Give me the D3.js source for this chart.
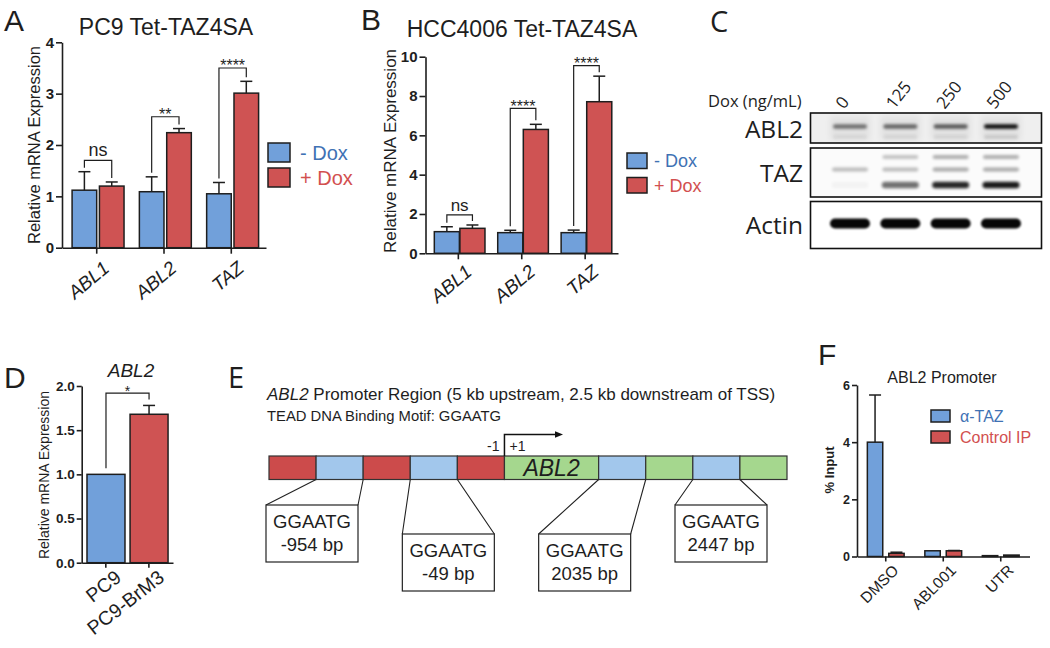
<!DOCTYPE html>
<html>
<head>
<meta charset="utf-8">
<title>ABL2 / TAZ figure</title>
<script src="https://cdn.jsdelivr.net/npm/d3@7/dist/d3.min.js"></script>
<style>
  body { margin: 0; background: #fff; }
  svg { display: block; }
  text { font-family: "Liberation Sans", Arial, sans-serif; }
</style>
</head>
<body>
<div id="figure"></div>
<script>
// ---------- Panel A: PC9 Tet-TAZ4SA ----------
const aGenes = ['ABL1', 'ABL2', 'TAZ'];
const aMinusDox = [1.12, 1.09, 1.05];
const aMinusDoxErr = [0.36, 0.29, 0.22];
const aPlusDox = [1.20, 2.24, 3.01];
const aPlusDoxErr = [0.08, 0.08, 0.23];
const aSigLabels = ['ns', '**', '****'];
const aSigLevels = [1.70, 2.55, 3.50];
const aTicks = [0, 1, 2, 3, 4];

// ---------- Panel B: HCC4006 Tet-TAZ4SA ----------
const bGenes = ['ABL1', 'ABL2', 'TAZ'];
const bMinusDox = [1.10, 1.05, 1.05];
const bMinusDoxErr = [0.25, 0.12, 0.13];
const bPlusDox = [1.27, 6.30, 7.71];
const bPlusDoxErr = [0.17, 0.26, 1.30];
const bSigLabels = ['ns', '****', '****'];
const bSigLevels = [1.95, 7.37, 9.55];
const bTicks = [0, 2, 4, 6, 8, 10];

// ---------- Panel C: western blot (band intensities 0..1) ----------
const cDoses = ['0', '125', '250', '500'];
const cAbl2 = [0.5, 0.55, 0.6, 0.95];
const cTazUpper = [0, 0.22, 0.3, 0.3];
const cTazMiddle = [0.25, 0.25, 0.32, 0.32];
const cTazLower = [0.03, 0.55, 0.85, 0.9];
const cActin = [0.97, 0.97, 0.97, 0.97];

// ---------- Panel D: ABL2 in PC9 vs PC9-BrM3 ----------
const dLines = ['PC9', 'PC9-BrM3'];
const dValues = [1.00, 1.68];
const dErr = [0, 0.10];
const dSigLevel = 1.92;
const dTicks = [0, 0.5, 1.0, 1.5, 2.0];

// ---------- Panel E: promoter schematic ----------
const eSegments = ['up', 'motif', 'up', 'motif', 'up', 'gene', 'motif', 'down', 'motif', 'down'];
const eSpans = [1, 1, 1, 1, 1, 2, 1, 1, 1, 1];
const eSites = ['-954 bp', '-49 bp', '2035 bp', '2447 bp'];
const eSiteSegment = [1, 3, 6, 8];
const eSiteRow = [0, 1, 1, 0];

// ---------- Panel F: ChIP at ABL2 promoter ----------
const fTreatments = ['DMSO', 'ABL001', 'UTR'];
const fTaz = [4.00, 0.20, 0.03];
const fTazErr = [1.65, 0, 0];
const fControl = [0.11, 0.20, 0.05];
const fControlErr = [0.04, 0.01, 0];
const fTicks = [0, 2, 4, 6];

const INK = '#1e1e1e';
const BLUE = '#71a0da';
const RED = '#cf5353';
const BLUE_TEXT = '#3f72b4';
const RED_TEXT = '#d2504f';
const MYRIAD = '"Open Sans", "Liberation Sans", sans-serif';

// Create SVG
const svg = d3.select('#figure').append('svg')
  .attr('width', 1050)
  .attr('height', 648);
svg.append('rect').attr('width', 1050).attr('height', 648).attr('fill', '#fff');

const defs = svg.append('defs');
[['blurSoft', 1.6], ['blurHard', 1.1], ['blurWide', 3]].forEach(([id, sd]) => {
  defs.append('filter').attr('id', id)
    .attr('x', '-40%').attr('y', '-150%').attr('width', '180%').attr('height', '400%')
    .append('feGaussianBlur').attr('stdDeviation', sd);
});

function label(txt, x, y, size, opts = {}) {
  return svg.append('text')
    .attr('x', x).attr('y', y)
    .attr('font-size', size)
    .attr('text-anchor', opts.anchor || 'start')
    .attr('font-style', opts.italic ? 'italic' : null)
    .attr('font-weight', opts.bold ? 'bold' : null)
    .style('font-family', opts.family || null)
    .style('fill', opts.color || INK)
    .text(txt);
}

// Generic grouped bar chart (GraphPad look)
function barChart(o) {
  const g = svg.append('g');
  const y = d3.scaleLinear().domain(o.yDomain).range([o.bottom, o.top]);
  const x = d3.scaleBand().domain(o.groups).range([o.left, o.right]).paddingOuter(o.outer || 0);
  const sub = d3.scaleBand()
    .domain(o.series.map((s, k) => k))
    .range([o.sub[0] * x.step(), o.sub[1] * x.step()])
    .paddingInner(o.subPad || 0);
  const bw = sub.bandwidth();
  const barX = (k, i) => x(o.groups[i]) + sub(k);

  // Bars + upper error bars
  o.series.forEach((s, k) => {
    const rows = o.groups.map((name, i) => ({
      i, v: s.values[i], e: s.errors[i],
      color: Array.isArray(s.color) ? s.color[i] : s.color
    }));

    g.selectAll(null).data(rows).enter().append('rect')
      .attr('x', d => barX(k, d.i))
      .attr('width', bw)
      .attr('y', d => y(d.v))
      .attr('height', d => y(0) - y(d.v))
      .attr('fill', d => d.color)
      .attr('stroke', INK)
      .attr('stroke-width', 1.5);

    const err = g.selectAll(null).data(rows.filter(d => d.e > 0)).enter().append('g')
      .attr('stroke', INK).attr('stroke-width', 1.5);
    err.append('line')
      .attr('x1', d => barX(k, d.i) + bw / 2).attr('x2', d => barX(k, d.i) + bw / 2)
      .attr('y1', d => y(d.v)).attr('y2', d => y(d.v + d.e));
    err.append('line')
      .attr('x1', d => barX(k, d.i) + bw / 2 - o.cap / 2)
      .attr('x2', d => barX(k, d.i) + bw / 2 + o.cap / 2)
      .attr('y1', d => y(d.v + d.e)).attr('y2', d => y(d.v + d.e));
  });

  // Axes
  const yAxis = g.append('g')
    .attr('transform', `translate(${o.left},0)`)
    .call(d3.axisLeft(y).tickValues(o.ticks).tickFormat(o.fmt || d3.format('d'))
      .tickSize(o.tickLen).tickSizeOuter(0).tickPadding(2));
  const xAxis = g.append('g')
    .attr('transform', `translate(0,${o.bottom})`)
    .call(d3.axisBottom(x).tickSize(o.tickLen).tickSizeOuter(0));

  g.selectAll('.domain, .tick line').attr('stroke', INK).attr('stroke-width', 1.6);
  yAxis.selectAll('text')
    .attr('font-size', o.tickFont)
    .attr('font-weight', 'bold')
    .style('fill', INK);
  xAxis.selectAll('text')
    .attr('x', 0).attr('y', 0).attr('dy', '0.72em')
    .attr('text-anchor', 'end')
    .attr('transform', `translate(${o.labelShift[0]},${o.labelShift[1]}) rotate(${o.labelRotate})`)
    .attr('font-size', o.labelFont)
    .attr('font-style', o.italic ? 'italic' : null)
    .style('fill', INK);

  // Axis title
  g.append('text')
    .attr('transform', `translate(${o.yLabel.x},${o.yLabel.y}) rotate(-90)`)
    .attr('text-anchor', 'middle')
    .attr('font-size', o.yLabel.size)
    .attr('font-weight', o.yLabel.bold ? 'bold' : null)
    .style('fill', INK)
    .text(o.yLabel.text);

  // Significance brackets
  if (o.sig) {
    o.groups.forEach((name, i) => {
      const [s0, s1] = o.series;
      const lx = barX(0, i) + bw / 2;
      const rx = barX(1, i) + bw / 2;
      const top = y(o.sig.levels[i]);
      const lb = y(s0.values[i] + s0.errors[i]) - o.sig.gap;
      const rb = y(s1.values[i] + s1.errors[i]) - o.sig.gap;
      g.append('path')
        .attr('d', `M${lx},${lb}V${top}H${rx}V${rb}`)
        .attr('fill', 'none').attr('stroke', INK).attr('stroke-width', 1.2);
      const lab = o.sig.labels[i];
      const star = lab.includes('*');
      g.append('text')
        .attr('x', (lx + rx) / 2)
        .attr('y', star ? top + 3.5 : top - 4)
        .attr('text-anchor', 'middle')
        .attr('font-size', star ? o.sig.starSize : o.sig.nsSize)
        .style('fill', INK)
        .text(lab);
    });
  }

  return { g, x, y, barX, bw };
}

function legend(items, o) {
  items.forEach((it, i) => {
    const top = o.y + i * o.step;
    svg.append('rect')
      .attr('x', o.x).attr('y', top).attr('width', o.w).attr('height', o.h)
      .attr('fill', it.fill).attr('stroke', INK).attr('stroke-width', 1.5);
    svg.append('text')
      .attr('x', o.x + o.w + o.gap).attr('y', top + o.h / 2).attr('dy', '0.36em')
      .attr('font-size', o.font)
      .style('fill', it.color)
      .text(it.text);
  });
}

// ****************** Panel A ******************
label('A', 4, 31, 30);
label('PC9 Tet-TAZ4SA', 166, 35, 23, { anchor: 'middle' });
barChart({
  groups: aGenes,
  series: [
    { values: aMinusDox, errors: aMinusDoxErr, color: BLUE },
    { values: aPlusDox, errors: aPlusDoxErr, color: RED }
  ],
  yDomain: [0, 4], ticks: aTicks,
  left: 62, right: 266, top: 42.3, bottom: 247.7,
  outer: 0.016, sub: [0.134, 0.906], subPad: 0.1,
  cap: 12, tickLen: 6, tickFont: 15,
  labelFont: 19, italic: true, labelRotate: -40, labelShift: [5, 12],
  yLabel: { text: 'Relative mRNA Expression', x: 40, y: 145, size: 16.5 },
  sig: { labels: aSigLabels, levels: aSigLevels, gap: 4, starSize: 16, nsSize: 18 }
});
legend([
  { text: '- Dox', fill: BLUE, color: BLUE_TEXT },
  { text: '+ Dox', fill: RED, color: RED_TEXT }
], { x: 268, y: 143, w: 22, h: 19, step: 25, gap: 10, font: 20 });

// ****************** Panel B ******************
label('B', 361, 30, 30);
label('HCC4006 Tet-TAZ4SA', 522, 37, 23, { anchor: 'middle' });
barChart({
  groups: bGenes,
  series: [
    { values: bMinusDox, errors: bMinusDoxErr, color: BLUE },
    { values: bPlusDox, errors: bPlusDoxErr, color: RED }
  ],
  yDomain: [0, 10], ticks: bTicks,
  left: 425.5, right: 618, top: 56.7, bottom: 253.3,
  outer: 0.018, sub: [0.121, 0.92], subPad: 0.02,
  cap: 12, tickLen: 6, tickFont: 15,
  labelFont: 19, italic: true, labelRotate: -40, labelShift: [6, 10],
  yLabel: { text: 'Relative mRNA Expression', x: 396, y: 151, size: 17 },
  sig: { labels: bSigLabels, levels: bSigLevels, gap: 4, starSize: 16, nsSize: 17 }
});
legend([
  { text: '- Dox', fill: BLUE, color: BLUE_TEXT },
  { text: '+ Dox', fill: RED, color: RED_TEXT }
], { x: 627, y: 153, w: 20, h: 15.5, step: 24.5, gap: 7, font: 18 });

// ****************** Panel C: western blot ******************
label('C', 710, 32, 29, { family: MYRIAD });
label('Dox (ng/mL)', 708, 107, 16.5, { family: MYRIAD });

const cg = svg.append('g');
const lane = d3.scalePoint().domain(cDoses).range([850, 1001]);
const blotLeft = 810.5, blotRight = 1041.5;
const blotRows = [
  { text: 'ABL2', top: 113, height: 30, bg: '#efefef', base: 138 },
  { text: 'TAZ', top: 148, height: 49, bg: '#fbfbfb', base: 181.5 },
  { text: 'Actin', top: 201.5, height: 47, bg: '#ffffff', base: 233.5 }
];

blotRows.forEach(r => {
  cg.append('rect')
    .attr('x', blotLeft).attr('y', r.top)
    .attr('width', blotRight - blotLeft).attr('height', r.height)
    .attr('fill', r.bg);
  label(r.text, 803, r.base, 24.5, { anchor: 'end', family: MYRIAD });
});

// faint lane smears in the ABL2 strip
cg.selectAll(null).data(cDoses).enter().append('rect')
  .attr('x', d => lane(d) - 20).attr('y', 116).attr('width', 40).attr('height', 24)
  .attr('fill', '#000').attr('opacity', 0.05).attr('filter', 'url(#blurWide)');

function bands(values, cy, w, h, filter) {
  cg.selectAll(null).data(cDoses).enter().append('rect')
    .attr('x', d => lane(d) - w / 2).attr('y', cy - h / 2)
    .attr('width', w).attr('height', h).attr('rx', h / 2)
    .attr('fill', '#000')
    .attr('opacity', (d, i) => values[i])
    .attr('filter', `url(#${filter})`);
}
bands(cAbl2, 126.5, 34, 4.5, 'blurSoft');
bands(cAbl2.map(v => v * 0.12), 137, 34, 4, 'blurSoft');
bands(cTazUpper, 157, 36, 4, 'blurSoft');
bands(cTazMiddle, 169.5, 36, 4, 'blurSoft');
bands(cTazLower, 185, 37, 6.5, 'blurSoft');
bands(cActin, 223.5, 40, 10, 'blurHard');

blotRows.forEach(r => {
  cg.append('rect')
    .attr('x', blotLeft).attr('y', r.top)
    .attr('width', blotRight - blotLeft).attr('height', r.height)
    .attr('fill', 'none').attr('stroke', '#111').attr('stroke-width', 1.6);
});

cg.selectAll(null).data(cDoses).enter().append('text')
  .attr('transform', d => `translate(${lane(d) - 6},110) rotate(-52)`)
  .attr('font-size', 17)
  .style('font-family', MYRIAD)
  .style('fill', INK)
  .text(d => d);

// ****************** Panel D ******************
label('D', 4, 388, 30);
label('ABL2', 131, 377, 19, { anchor: 'middle', italic: true });
const dChart = barChart({
  groups: dLines,
  series: [{ values: dValues, errors: dErr, color: [BLUE, RED] }],
  yDomain: [0, 2], ticks: dTicks, fmt: d3.format('.1f'),
  left: 81.7, right: 173, top: 386, bottom: 562.7,
  outer: 0.06, sub: [0.063, 0.945], subPad: 0,
  cap: 12, tickLen: 5, tickFont: 13.5,
  labelFont: 19.5, italic: false, labelRotate: -38, labelShift: [8, 6],
  yLabel: { text: 'Relative mRNA Expression', x: 48.5, y: 475, size: 14 }
});
{
  const { y, barX, bw } = dChart;
  const lx = barX(0, 0) + bw / 2;
  const rx = barX(0, 1) + bw / 2;
  const top = y(dSigLevel);
  dChart.g.append('path')
    .attr('d', `M${lx},${y(dValues[0] + dErr[0]) - 6}V${top}H${rx}V${y(dValues[1] + dErr[1]) - 6}`)
    .attr('fill', 'none').attr('stroke', INK).attr('stroke-width', 1.2);
  dChart.g.append('text')
    .attr('x', (lx + rx) / 2).attr('y', top + 3)
    .attr('text-anchor', 'middle').attr('font-size', 14)
    .style('fill', INK).text('*');
}

// ****************** Panel E: ABL2 promoter ******************
label('E', 228, 388, 29, { family: MYRIAD });
const eTitle = svg.append('text').attr('x', 267).attr('y', 400).attr('font-size', 17).style('fill', INK);
eTitle.append('tspan').attr('font-style', 'italic').text('ABL2');
eTitle.append('tspan').text(' Promoter Region (5 kb upstream, 2.5 kb downstream of TSS)');
label('TEAD DNA Binding Motif: GGAATG', 267, 421, 14.8);

const eg = svg.append('g');
const eColor = { up: '#cc4b4b', motif: '#a2c7ec', gene: '#a5d78e', down: '#a5d78e' };
const eStart = [0, ...d3.cumsum(eSpans)];
const slot = d3.scaleLinear().domain([0, d3.sum(eSpans)]).range([269, 787]);
const barTop = 456, barH = 23.5;

eg.selectAll(null).data(eSegments).enter().append('rect')
  .attr('x', (d, i) => slot(eStart[i]))
  .attr('width', (d, i) => slot(eStart[i + 1]) - slot(eStart[i]))
  .attr('y', barTop).attr('height', barH)
  .attr('fill', d => eColor[d])
  .attr('stroke', '#333').attr('stroke-width', 1.2);

const geneIdx = eSegments.indexOf('gene');
const tssX = slot(eStart[geneIdx]);
eg.append('text')
  .attr('x', (slot(eStart[geneIdx]) + slot(eStart[geneIdx + 1])) / 2)
  .attr('y', barTop + barH / 2).attr('dy', '0.36em')
  .attr('text-anchor', 'middle').attr('font-size', 23).attr('font-style', 'italic')
  .style('fill', INK).text('ABL2');

// TSS arrow
eg.append('path')
  .attr('d', `M${tssX},${barTop}V434.5H556`)
  .attr('fill', 'none').attr('stroke', '#111').attr('stroke-width', 1.5);
eg.append('path').attr('d', 'M555,431.2L563,434.5L555,437.8Z').attr('fill', '#111');
label('-1', tssX - 5, 451, 14, { anchor: 'end' });
label('+1', tssX + 5, 451, 14);

// Motif call-outs
const siteX = d3.scalePoint().domain(eSites).range([312, 721]);
const boxW = 92, boxH = 57, rowTop = [505, 534];
eSites.forEach((site, i) => {
  const seg = eSiteSegment[i];
  const left = siteX(site) - boxW / 2;
  const top = rowTop[eSiteRow[i]];
  eg.append('path')
    .attr('d', `M${slot(eStart[seg])},${barTop + barH}L${left},${top}` +
               `M${slot(eStart[seg + 1])},${barTop + barH}L${left + boxW},${top}`)
    .attr('fill', 'none').attr('stroke', '#222').attr('stroke-width', 1.1);
  eg.append('rect')
    .attr('x', left).attr('y', top).attr('width', boxW).attr('height', boxH)
    .attr('fill', '#fff').attr('stroke', '#222').attr('stroke-width', 1.2);
  eg.append('text').attr('x', siteX(site)).attr('y', top + 23)
    .attr('text-anchor', 'middle').attr('font-size', 18.5).style('fill', INK).text('GGAATG');
  eg.append('text').attr('x', siteX(site)).attr('y', top + 46)
    .attr('text-anchor', 'middle').attr('font-size', 18.5).style('fill', INK).text(site);
});

// ****************** Panel F ******************
label('F', 818, 365, 30);
label('ABL2 Promoter', 942, 383, 16, { anchor: 'middle' });
barChart({
  groups: fTreatments,
  series: [
    { values: fTaz, errors: fTazErr, color: BLUE },
    { values: fControl, errors: fControlErr, color: RED }
  ],
  yDomain: [0, 6], ticks: fTicks,
  left: 857, right: 1029.5, top: 385, bottom: 556.5,
  outer: 0, sub: [0.18, 0.82], subPad: 0.28,
  cap: 12, tickLen: 5, tickFont: 12.5,
  labelFont: 15.5, italic: false, labelRotate: -45, labelShift: [6, 7],
  yLabel: { text: '% Input', x: 834, y: 470, size: 13, bold: true }
});
legend([
  { text: 'α-TAZ', fill: BLUE, color: BLUE_TEXT },
  { text: 'Control IP', fill: RED, color: RED_TEXT }
], { x: 931, y: 410, w: 19, h: 12, step: 21, gap: 10, font: 16 });
</script>
</body>
</html>
